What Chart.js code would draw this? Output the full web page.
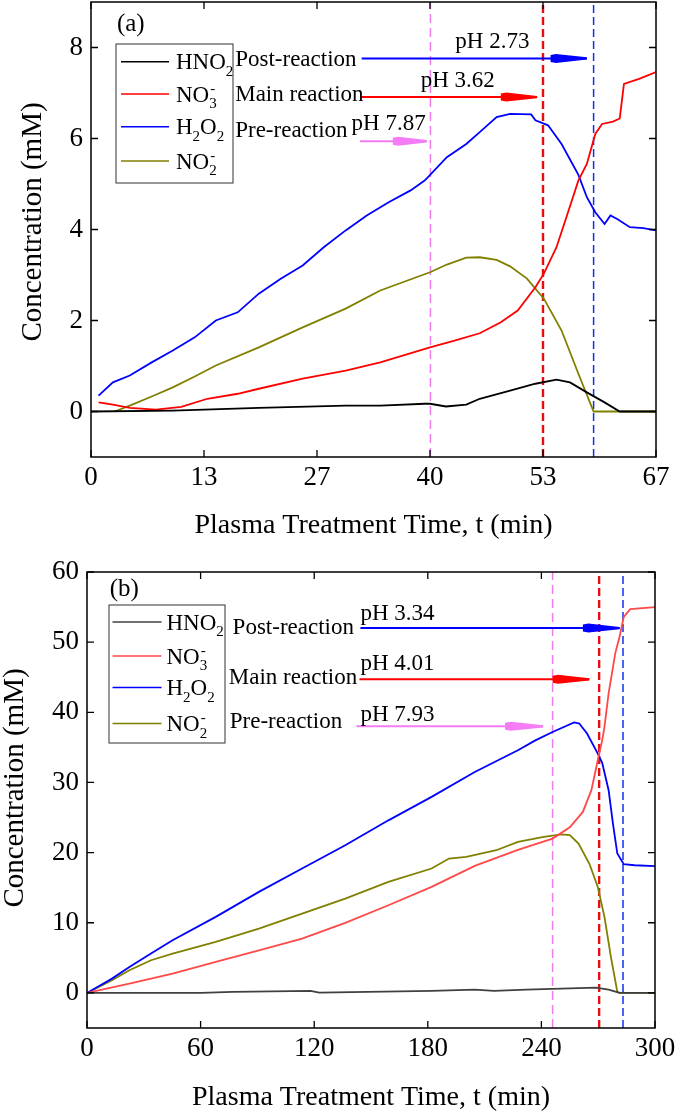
<!DOCTYPE html>
<html><head><meta charset="utf-8">
<script src="https://cdn.jsdelivr.net/npm/chart.js@4.4.1/dist/chart.umd.min.js"></script>
<style>
html,body{margin:0;padding:0;background:#fff;}
#wrap{position:relative;width:677px;height:1114px;overflow:hidden;}
.p{position:absolute;left:0;}
</style></head><body>
<div id="wrap">
<div class="p" style="top:-12px"><canvas id="ca" width="677" height="557"></canvas></div>
<div class="p" style="top:557px"><canvas id="cb" width="683" height="557"></canvas></div>
</div>
<script>
// ---------------- Panel (a) data ----------------
const seriesNames = ['HNO₂', 'NO₃⁻', 'H₂O₂', 'NO₂⁻'];
const xTickLabelsA = ['0', '13', '27', '40', '53', '67'];
const yTickLabelsA = [0, 2, 4, 6, 8];

const tA_hno2 = [0, 9.7, 19.9, 30.2, 34.3, 39.6, 40.2, 42.1, 44.5, 46.1, 49.7, 52.7, 55.2, 56.8, 58.8, 60.9, 62.7, 67];
const cA_hno2 = [0, 0.02, 0.08, 0.13, 0.13, 0.17, 0.17, 0.11, 0.15, 0.28, 0.46, 0.61, 0.70, 0.64, 0.42, 0.20, 0, 0];

const tA_no3 = [0.9, 2.6, 4.6, 7.7, 10.7, 13.8, 17.4, 19.9, 25.1, 30.2, 34.3, 40.2, 43, 46.1, 48.6, 50.6, 52.7, 53.7, 55.2, 56.5, 57.8, 58.8, 59.8, 60.6, 61.9, 62.7, 63.2, 65, 67];
const cA_no3 = [0.2, 0.15, 0.08, 0.04, 0.1, 0.28, 0.39, 0.5, 0.72, 0.9, 1.08, 1.41, 1.55, 1.72, 1.96, 2.22, 2.73, 3.03, 3.61, 4.34, 5.08, 5.44, 6.1, 6.32, 6.37, 6.44, 7.2, 7.31, 7.46];

const tA_h2o2 = [0.9, 2.6, 4.6, 7.2, 9.7, 12.3, 14.8, 17.4, 19.9, 22.5, 25.1, 27.6, 30.2, 32.7, 35.3, 37.9, 39.6, 42.2, 44.5, 46.1, 48.1, 49.7, 52.2, 52.7, 54.2, 55.8, 57.8, 58.8, 59.8, 60.9, 61.6, 62.4, 63.9, 65.5, 67];
const cA_h2o2 = [0.35, 0.64, 0.79, 1.08, 1.34, 1.63, 2.0, 2.18, 2.59, 2.92, 3.21, 3.61, 3.98, 4.31, 4.6, 4.86, 5.08, 5.59, 5.88, 6.14, 6.47, 6.54, 6.53, 6.4, 6.29, 5.88, 5.2, 4.71, 4.38, 4.12, 4.31, 4.23, 4.05, 4.03, 3.98];

const tA_no2 = [2.8, 4.6, 7.2, 9.7, 12.3, 14.8, 19.9, 25.1, 30.2, 34.3, 40.2, 42.2, 44.5, 46.1, 48.1, 49.7, 51.7, 53.7, 55.8, 57.8, 59.6, 67];
const cA_no2 = [0, 0.13, 0.33, 0.53, 0.77, 1.01, 1.41, 1.85, 2.26, 2.66, 3.06, 3.23, 3.38, 3.39, 3.33, 3.19, 2.92, 2.48, 1.78, 0.83, 0, 0];

const phaseTimesA = [40.25, 53.6, 59.6];           // pre / main / post boundaries
const phaseLabels = ['Pre-reaction', 'Main reaction', 'Post-reaction'];
const phLabelsA = ['pH 7.87', 'pH 3.62', 'pH 2.73'];

// ---------------- Panel (b) data ----------------
const xTickLabelsB = ['0', '60', '120', '180', '240', '300'];
const yTickLabelsB = [0, 10, 20, 30, 40, 50, 60];

const tB_hno2 = [0, 60, 77, 118, 122.7, 182, 204.8, 215, 232, 250.5, 268.7, 275.5, 281.3, 300];
const cB_hno2 = [0, 0.02, 0.14, 0.28, 0.05, 0.28, 0.48, 0.28, 0.48, 0.62, 0.76, 0.48, 0, 0];

const tB_no3 = [0, 22.4, 45.2, 68, 90.8, 113.6, 136.4, 159.2, 182, 204.8, 227.6, 245.9, 255, 261.9, 266.4, 269.8, 272.1, 273.3, 275.5, 279, 281.3, 283.5, 286.9, 300];
const cB_no3 = [0, 1.33, 2.76, 4.42, 6.08, 7.75, 9.98, 12.5, 15.11, 18.1, 20.4, 22.0, 23.6, 25.8, 28.9, 33.2, 36.0, 37.9, 42.7, 48.4, 50.8, 53.6, 54.7, 55.0];

const tB_h2o2 = [0, 13.2, 22.4, 33.8, 45.2, 68, 90.8, 113.6, 136.4, 159.2, 182, 204.8, 227.6, 236.8, 245.9, 257.3, 260, 264.1, 269.8, 272.1, 275.5, 277.8, 280.1, 283.5, 289.2, 300];
const cB_h2o2 = [0, 2.04, 3.71, 5.61, 7.51, 10.84, 14.4, 17.73, 21.06, 24.6, 27.95, 31.5, 34.6, 36.0, 37.2, 38.55, 38.4, 36.98, 34.1, 32.8, 28.9, 24.1, 19.87, 18.35, 18.2, 18.06];

const tB_no2 = [0, 13.2, 22.4, 33.8, 45.2, 68, 90.8, 113.6, 136.4, 159.2, 182, 191.2, 200.3, 216.2, 227.6, 241.3, 250.5, 255, 259.6, 265.3, 269.8, 273.3, 276.7, 280.1, 281.3, 300];
const cB_no2 = [0, 1.8, 3.23, 4.66, 5.6, 7.27, 9.17, 11.31, 13.45, 15.83, 17.73, 19.15, 19.4, 20.34, 21.53, 22.24, 22.6, 22.5, 21.3, 18.44, 15.1, 10.84, 5.13, 0.14, 0, 0];

const phaseTimesB = [245.9, 270.5, 283.1];
const phLabelsB = ['pH 7.93', 'pH 4.01', 'pH 3.34'];

// ---------------- rendering ----------------
const FONT = "'Liberation Serif','Times New Roman',serif";
const pts = (t, c) => t.map((v, i) => ({ x: v, y: c[i] }));

function chemText(ctx, str, x, baseline, size) {
  const sub = '₀₁₂₃₄₅₆₇₈₉';
  const small = Math.round(size * 0.66);
  let cx = x, lastSubX = x;
  for (const ch of str) {
    const si = sub.indexOf(ch);
    if (si >= 0) {
      ctx.font = small + 'px ' + FONT; lastSubX = cx;
      ctx.fillText(String(si), cx, baseline + size * 0.3);
      cx += ctx.measureText(String(si)).width;
    } else if (ch === '⁻') {
      ctx.font = small + 'px ' + FONT;
      ctx.fillText('-', lastSubX + 1, baseline - size * 0.38);
    } else {
      ctx.font = size + 'px ' + FONT;
      ctx.fillText(ch, cx, baseline);
      cx += ctx.measureText(ch).width;
    }
  }
}

const decoPlugin = {
  id: 'deco',
  beforeDatasetsDraw(chart, args, o) {
    const ctx = chart.ctx, ca = chart.chartArea, xs = chart.scales.x;
    ctx.save();
    o.vlines.forEach((t, i) => {
      const x = xs.getPixelForValue(t);
      ctx.strokeStyle = o.vColors[i]; ctx.lineWidth = o.vWidths[i];
      ctx.setLineDash(o.vDash[i]);
      ctx.beginPath(); ctx.moveTo(x, ca.bottom); ctx.lineTo(x, ca.top); ctx.stroke();
    });
    ctx.restore();
  },
  afterDraw(chart, args, o) {
    const ctx = chart.ctx, ca = chart.chartArea, xs = chart.scales.x, ys = chart.scales.y;
    ctx.save();
    // frame
    ctx.strokeStyle = '#000'; ctx.lineWidth = 1.5; ctx.setLineDash([]);
    ctx.strokeRect(ca.left, ca.top, ca.right - ca.left, ca.bottom - ca.top);
    // inward ticks on all four sides
    ctx.lineWidth = 1.3;
    ctx.beginPath();
    xs.ticks.forEach(t => {
      const x = xs.getPixelForValue(t.value), L = t.lbl ? 7 : 4;
      ctx.moveTo(x, ca.bottom); ctx.lineTo(x, ca.bottom - L);
      ctx.moveTo(x, ca.top); ctx.lineTo(x, ca.top + L);
    });
    ys.ticks.forEach(t => {
      const y = ys.getPixelForValue(t.value), L = t.lbl ? 7 : 4;
      ctx.moveTo(ca.left, y); ctx.lineTo(ca.left + L, y);
      ctx.moveTo(ca.right, y); ctx.lineTo(ca.right - L, y);
    });
    ctx.stroke();

    // arrows
    o.arrows.start.forEach((s, i) => {
      const x0 = xs.getPixelForValue(s), x1 = xs.getPixelForValue(o.arrows.end[i]);
      const xh = xs.getPixelForValue(o.arrows.head[i]), y = ys.getPixelForValue(o.arrows.level[i]);
      ctx.strokeStyle = o.arrows.colors[i]; ctx.fillStyle = o.arrows.colors[i];
      ctx.lineWidth = 2;
      ctx.beginPath(); ctx.moveTo(x0, y); ctx.lineTo(x1, y); ctx.stroke();
      const L = x1 - xh;
      ctx.beginPath();
      ctx.moveTo(xh, y - 3.5); ctx.lineTo(xh + 0.15 * L, y - 4.5); ctx.lineTo(x1, y - 1.2);
      ctx.lineTo(x1, y + 1.2); ctx.lineTo(xh + 0.15 * L, y + 4.5); ctx.lineTo(xh, y + 3.5);
      ctx.closePath(); ctx.fill();
    });

    // text annotations
    ctx.fillStyle = '#000'; ctx.textBaseline = 'alphabetic'; ctx.textAlign = 'left';
    ctx.font = o.textSize + 'px ' + FONT;
    o.phase.labels.forEach((s, i) => {
      ctx.fillText(s, xs.getPixelForValue(o.phase.x[i]), ys.getPixelForValue(o.phase.y[i]));
    });
    o.ph.labels.forEach((s, i) => {
      ctx.fillText(s, xs.getPixelForValue(o.ph.x[i]), ys.getPixelForValue(o.ph.y[i]));
    });
    ctx.font = o.tagSize + 'px ' + FONT;
    ctx.fillText(o.tag.text, xs.getPixelForValue(o.tag.x), ys.getPixelForValue(o.tag.y));

    // legend
    const lg = o.legend;
    const bx = ca.left + lg.dx, by = ca.top + lg.dy;
    ctx.lineWidth = 1; ctx.strokeStyle = '#333';
    ctx.strokeRect(bx, by, lg.w, lg.h);
    chart.data.datasets.forEach((ds, i) => {
      const y = by + lg.rows[i];
      ctx.strokeStyle = ds.borderColor; ctx.lineWidth = 1.6;
      ctx.beginPath(); ctx.moveTo(bx + lg.l0, y); ctx.lineTo(bx + lg.l1, y); ctx.stroke();
      ctx.fillStyle = '#000';
      chemText(ctx, ds.label, bx + lg.tx, y + 7.5, lg.size);
    });

    // axis titles
    ctx.fillStyle = '#000'; ctx.textAlign = 'center'; ctx.textBaseline = 'alphabetic';
    ctx.font = o.xTitle.size + 'px ' + FONT;
    ctx.fillText(o.xTitle.text, (ca.left + ca.right) / 2, ca.bottom + o.xTitle.dy);
    ctx.save();
    ctx.translate(o.yTitle.x, ca.top + o.yTitle.dy);
    ctx.rotate(-Math.PI / 2);
    ctx.font = o.yTitle.size + 'px ' + FONT;
    ctx.textBaseline = 'middle';
    ctx.fillText(o.yTitle.text, 0, 0);
    ctx.restore();
    ctx.restore();
  }
};

function makeChart(id, P) {
  const nX = (P.xLabels.length - 1) * 2;
  const cv = document.getElementById(id);
  const datasets = P.series.map(s => ({
    label: s.name, data: pts(s.t, s.c), borderColor: s.color, backgroundColor: s.color,
    borderWidth: 1.8, pointRadius: 0, tension: 0, fill: false
  }));
  return new Chart(cv, {
    type: 'line',
    data: { datasets },
    plugins: [decoPlugin],
    options: {
      responsive: false, animation: false, devicePixelRatio: 1,
      layout: { padding: { left: 0, right: cv.width - P.right, top: P.top, bottom: 0 } },
      plugins: { legend: { display: false }, tooltip: { enabled: false }, deco: P.deco },
      scales: {
        x: {
          type: 'linear', min: P.xMin, max: P.xMax,
          grid: { display: false, drawTicks: false }, border: { display: false },
          afterFit: s => { s.height = cv.height - P.bottom; },
          afterBuildTicks: s => {
            const t = [];
            for (let i = 0; i <= nX; i++) {
              t.push({ value: P.xMin + i * (P.xMax - P.xMin) / nX, lbl: i % 2 === 0 ? P.xLabels[i / 2] : '' });
            }
            s.ticks = t;
          },
          ticks: {
            autoSkip: false, maxRotation: 0, padding: 7, color: '#000',
            font: { family: FONT, size: 27, lineHeight: 1 },
            callback: (v, i, ticks) => ticks[i].lbl || null
          }
        },
        y: {
          type: 'linear', min: P.yMin, max: P.yMax,
          grid: { display: false, drawTicks: false }, border: { display: false },
          afterFit: s => { s.width = P.left; },
          afterBuildTicks: s => {
            const t = [];
            for (let v = P.yMin; v <= P.yMax + 1e-9; v += P.yStep) {
              t.push({ value: v, lbl: P.yLabels.includes(v) ? String(v) : '' });
            }
            s.ticks = t;
          },
          ticks: {
            autoSkip: false, padding: 8, color: '#000',
            font: { family: FONT, size: 27, lineHeight: 0.4 },
            callback: (v, i, ticks) => ticks[i].lbl || null
          }
        }
      }
    }
  });
}

// panel (a): canvas shifted up 12px, so frame top 14 -> page 2, bottom 469 -> page 457
makeChart('ca', {
  left: 91, right: 656, top: 14, bottom: 469,
  xMin: 0, xMax: 67, xLabels: xTickLabelsA,
  yMin: -1, yMax: 9, yStep: 1, yLabels: yTickLabelsA,
  series: [
    { name: seriesNames[0], t: tA_hno2, c: cA_hno2, color: '#000000' },
    { name: seriesNames[1], t: tA_no3, c: cA_no3, color: '#FF0000' },
    { name: seriesNames[2], t: tA_h2o2, c: cA_h2o2, color: '#0000FF' },
    { name: seriesNames[3], t: tA_no2, c: cA_no2, color: '#808000' }
  ],
  deco: {
    vlines: phaseTimesA, vColors: ['#F07CF0', '#E41010', '#1030F0'], vWidths: [1.5, 2.4, 1.5],
    vDash: [[9, 5], [8, 4], [8, 4]],
    arrows: { start: [31.9, 31.9, 32.1], end: [39.8, 52.9, 58.8], head: [35.8, 48.6, 54.5],
      level: [5.94, 6.91, 7.76], colors: ['#F47CF4', '#FF0000', '#0000FF'] },
    textSize: 23, tagSize: 25,
    phase: { labels: phaseLabels, x: [17.1, 17.1, 17.1], y: [6.04, 6.83, 7.6] },
    ph: { labels: phLabelsA, x: [30.9, 39.1, 43.2], y: [6.19, 7.13, 7.99] },
    tag: { text: '(a)', x: 3.07, y: 8.37 },
    legend: { dx: 25, dy: 42, w: 117, h: 139, rows: [17.7, 50, 82.7, 117], l0: 5, l1: 53, tx: 60, size: 23 },
    xTitle: { text: 'Plasma Treatment Time, t (min)', size: 28, dy: 76 },
    yTitle: { text: 'Concentration (mM)', size: 29, x: 33, dy: 220 }
  }
});

// panel (b): canvas 683 wide (clipped), right margin 28 -> frame right 655
makeChart('cb', {
  left: 87, right: 655, top: 15, bottom: 471,
  xMin: 0, xMax: 300, xLabels: xTickLabelsB,
  yMin: -5, yMax: 60, yStep: 5, yLabels: yTickLabelsB,
  series: [
    { name: seriesNames[0], t: tB_hno2, c: cB_hno2, color: '#404040' },
    { name: seriesNames[1], t: tB_no3, c: cB_no3, color: '#FF4848' },
    { name: seriesNames[2], t: tB_h2o2, c: cB_h2o2, color: '#0000FF' },
    { name: seriesNames[3], t: tB_no2, c: cB_no2, color: '#808000' }
  ],
  deco: {
    vlines: phaseTimesB, vColors: ['#F07CF0', '#E41010', '#1030F0'], vWidths: [1.5, 2.4, 1.5],
    vDash: [[9, 5], [8, 4], [8, 4]],
    arrows: { start: [142.3, 143.9, 144.4], end: [240.9, 265.3, 281.3], head: [220.8, 245.9, 261.9],
      level: [38.0, 44.7, 52.0], colors: ['#F47CF4', '#FF0000', '#0000FF'] },
    textSize: 23, tagSize: 25,
    phase: { labels: phaseLabels, x: [75.4, 74.9, 76.9], y: [37.7, 44.1, 51.2] },
    ph: { labels: phLabelsB, x: [144.4, 144.4, 144.4], y: [38.8, 46.0, 53.1] },
    tag: { text: '(b)', x: 12.0, y: 56.6 },
    legend: { dx: 22, dy: 33, w: 116, h: 138, rows: [17, 51, 82.5, 118.5], l0: 3.5, l1: 52.5, tx: 57.5, size: 23 },
    xTitle: { text: 'Plasma Treatment Time, t (min)', size: 28, dy: 77 },
    yTitle: { text: 'Concentration (mM)', size: 29, x: 15, dy: 216 }
  }
});
</script>
</body></html>
